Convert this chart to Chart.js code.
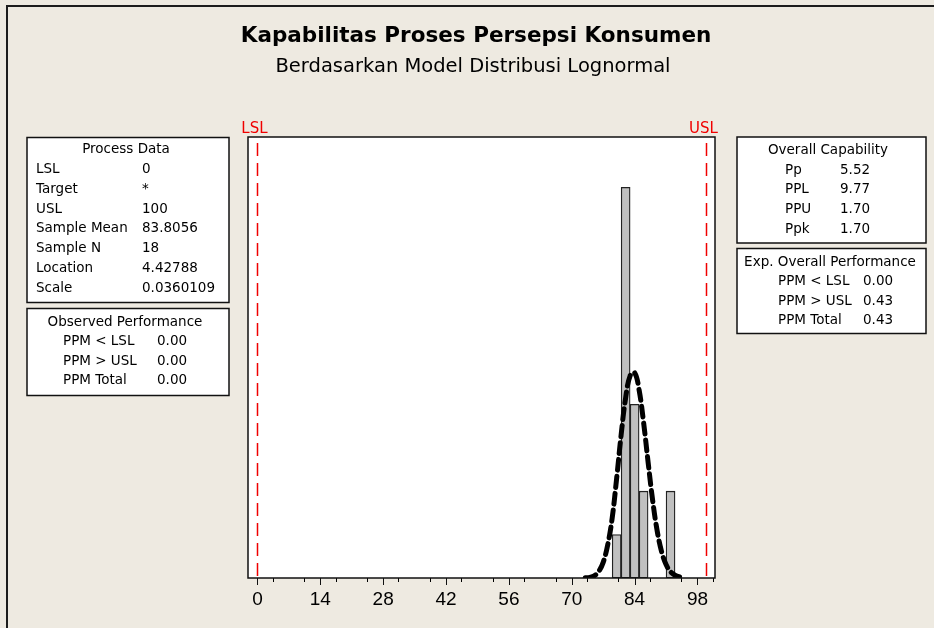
<!DOCTYPE html>
<html>
<head>
<meta charset="utf-8">
<script src="https://cdn.jsdelivr.net/npm/chart.js@4.4.1/dist/chart.umd.min.js"></script>
<style>
  html, body { margin: 0; padding: 0; background: #EEEAE1; }
  #wrap { width: 934px; height: 628px; }
</style>
</head>
<body>
<div id="wrap"><canvas id="capChart" width="934" height="628"></canvas></div>
<script>
// Histogram bins (centers, width 2) and counts
const binCenters = [80, 82, 84, 86, 88, 90, 92];
const binCounts = [1, 9, 4, 2, 0, 0, 2];

// Fitted lognormal curve (scaled to counts)
const curveX = [73, 74, 75, 76, 77, 78, 79, 80, 81, 82, 83, 84, 85, 86, 87, 88, 89, 90, 91, 92, 93, 94];
const curveY = [0.004, 0.015, 0.05, 0.15, 0.36, 0.76, 1.38, 2.3, 3.3, 4.15, 4.66, 4.73, 4.33, 3.58, 2.67, 1.8, 1.1, 0.61, 0.31, 0.145, 0.063, 0.025];

const LSL = 0;
const USL = 100;
const xTickStep = 7;
const xLabelStep = 14;

// Side tables
const processDataRows = [['LSL', '0'], ['Target', '*'], ['USL', '100'], ['Sample Mean', '83.8056'],
  ['Sample N', '18'], ['Location', '4.42788'], ['Scale', '0.0360109']];
const observedRows = [['PPM < LSL', '0.00'], ['PPM > USL', '0.00'], ['PPM Total', '0.00']];
const capabilityRows = [['Pp', '5.52'], ['PPL', '9.77'], ['PPU', '1.70'], ['Ppk', '1.70']];
const expectedRows = [['PPM < LSL', '0.00'], ['PPM > USL', '0.43'], ['PPM Total', '0.43']];

const boxFont = '13.5px "DejaVu Sans"';

function drawBox(ctx, b) {
  ctx.save();
  ctx.fillStyle = '#fff';
  ctx.fillRect(b.x, b.y, b.w, b.h);
  ctx.strokeStyle = '#111';
  ctx.lineWidth = 1.5;
  ctx.strokeRect(b.x, b.y, b.w, b.h);
  ctx.fillStyle = '#000';
  ctx.font = boxFont;
  ctx.textBaseline = 'middle';
  ctx.textAlign = 'center';
  ctx.fillText(b.title, b.titleX, b.titleY);
  ctx.textAlign = 'left';
  b.rows.forEach((r, i) => {
    const y = b.rowY + i * b.rowStep;
    ctx.fillText(r[0], b.labelX, y);
    ctx.fillText(r[1], b.valueX, y);
  });
  ctx.restore();
}

const decorPlugin = {
  id: 'decor',
  beforeDraw(chart) {
    const ctx = chart.ctx;
    const a = chart.chartArea;
    ctx.save();
    ctx.fillStyle = '#EEEAE1';
    ctx.fillRect(0, 0, chart.width, chart.height);
    // outer frame (top and left edges)
    ctx.strokeStyle = '#1c1c1c';
    ctx.lineWidth = 2;
    ctx.beginPath();
    ctx.moveTo(7, chart.height);
    ctx.lineTo(7, 6);
    ctx.lineTo(chart.width, 6);
    ctx.stroke();
    // plot background
    ctx.fillStyle = '#fff';
    ctx.fillRect(a.left, a.top, a.right - a.left, a.bottom - a.top);
    // titles
    ctx.fillStyle = '#000';
    ctx.textAlign = 'center';
    ctx.textBaseline = 'alphabetic';
    ctx.font = 'bold 21.5px "DejaVu Sans"';
    ctx.fillText('Kapabilitas Proses Persepsi Konsumen', 476, 42);
    ctx.font = '19.5px "DejaVu Sans"';
    ctx.fillText('Berdasarkan Model Distribusi Lognormal', 473, 72);
    ctx.restore();

    drawBox(ctx, { x: 27, y: 137.5, w: 202, h: 165, title: 'Process Data', titleX: 126, titleY: 149.5,
      rows: processDataRows, rowY: 169.5, rowStep: 19.8, labelX: 36, valueX: 142 });
    drawBox(ctx, { x: 27, y: 308.5, w: 202, h: 87, title: 'Observed Performance', titleX: 125, titleY: 322.5,
      rows: observedRows, rowY: 341.8, rowStep: 19.2, labelX: 63, valueX: 157 });
    drawBox(ctx, { x: 737, y: 137, w: 189, h: 106, title: 'Overall Capability', titleX: 828, titleY: 150,
      rows: capabilityRows, rowY: 170, rowStep: 19.8, labelX: 785, valueX: 840 });
    drawBox(ctx, { x: 737, y: 248.5, w: 189, h: 85, title: 'Exp. Overall Performance', titleX: 830, titleY: 262.5,
      rows: expectedRows, rowY: 281.8, rowStep: 19.2, labelX: 778, valueX: 863 });
  },
  afterDatasetsDraw(chart) {
    const ctx = chart.ctx;
    const a = chart.chartArea;
    const xs = chart.scales.x;
    ctx.save();
    ctx.strokeStyle = '#F00000';
    ctx.lineWidth = 1.5;
    ctx.setLineDash([13, 7]);
    [LSL, USL].forEach(v => {
      const px = Math.round(xs.getPixelForValue(v)) + 0.5;
      ctx.beginPath();
      ctx.moveTo(px, a.top + 6);
      ctx.lineTo(px, a.bottom);
      ctx.stroke();
    });
    ctx.setLineDash([]);
    ctx.fillStyle = '#F00000';
    ctx.font = '15px "DejaVu Sans"';
    ctx.textAlign = 'center';
    ctx.textBaseline = 'alphabetic';
    ctx.fillText('LSL', xs.getPixelForValue(LSL) - 3, a.top - 4);
    ctx.fillText('USL', xs.getPixelForValue(USL) - 3, a.top - 4);
    ctx.restore();
  },
  afterDraw(chart) {
    const ctx = chart.ctx;
    const a = chart.chartArea;
    const xs = chart.scales.x;
    ctx.save();
    ctx.strokeStyle = '#111';
    ctx.lineWidth = 1.5;
    ctx.strokeRect(a.left, a.top, a.right - a.left, a.bottom - a.top);
    // longer marks for labelled ticks
    ctx.lineWidth = 1;
    xs.ticks.forEach(t => {
      if (t.value % xLabelStep === 0) {
        const px = Math.round(xs.getPixelForValue(t.value)) + 0.5;
        ctx.beginPath();
        ctx.moveTo(px, a.bottom);
        ctx.lineTo(px, a.bottom + 7);
        ctx.stroke();
      }
    });
    ctx.restore();
  }
};

const ctx = document.getElementById('capChart').getContext('2d');
const capChart = new Chart(ctx, {
  type: 'bar',
  data: {
    datasets: [{
      type: 'line',
      data: curveX.map((x, i) => ({ x: x, y: curveY[i] })),
      borderColor: '#000',
      borderWidth: 5,
      borderDash: [11, 6],
      borderCapStyle: 'round',
      pointRadius: 0,
      tension: 0.4,
      fill: false
    }, {
      data: binCenters.map((x, i) => ({ x: x, y: binCounts[i] })),
      backgroundColor: '#C0C0C0',
      borderColor: '#222',
      borderWidth: 1.3,
      borderSkipped: false,
      barPercentage: 1,
      categoryPercentage: 1
    }]
  },
  options: {
    responsive: false,
    animation: false,
    layout: { padding: { left: 248, right: 219, top: 137, bottom: 0 } },
    plugins: { legend: { display: false }, tooltip: { enabled: false } },
    scales: {
      x: {
        type: 'linear',
        min: -2.1,
        max: 101.9,
        offset: false,
        afterFit: scale => { scale.height = 50; },
        grid: { drawOnChartArea: false, drawTicks: true, tickLength: 4, color: '#000' },
        border: { display: false },
        ticks: {
          stepSize: xTickStep,
          includeBounds: false,
          autoSkip: false,
          maxRotation: 0,
          padding: 6,
          color: '#000',
          font: { family: '"Liberation Sans"', size: 19 },
          callback: v => (v % xLabelStep === 0 ? v : '')
        }
      },
      y: { display: false, min: 0, max: 10.16 }
    }
  },
  plugins: [decorPlugin]
});
</script>
</body>
</html>
